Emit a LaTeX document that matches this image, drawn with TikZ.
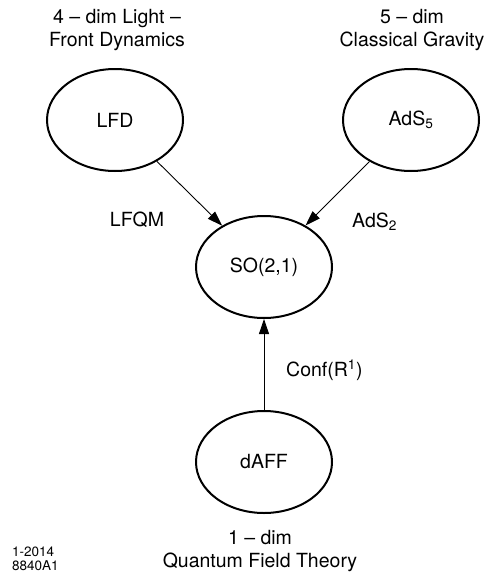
\documentclass[tikz,border=0pt]{standalone}
\usepackage{fontspec}
\setmainfont{TeX Gyre Heros}
\usetikzlibrary{shapes.geometric, arrows.meta}

\begin{document}
\begin{tikzpicture}[x=1pt, y=-1pt, font=\fontsize{19.5}{23}\selectfont,
  main/.style = {draw, ellipse, line width=2pt, minimum width=136pt, minimum height=102pt, inner sep=0pt},
  txt/.style = {align=center, inner sep=0pt},
  edge/.style = {-{Triangle[length=15pt, width=10pt]}, line width=0.9pt}]
\useasboundingbox (0,0) rectangle (489,573);

\node[main] (1) at (115,120) {LFD};
\node[main] (2) at (411,120) {AdS\textsubscript{5}};
\node[main] (3) at (264,267) {SO(2,1)};
\node[main] (4) at (264,462) {dAFF};

\node[txt] (5) at (117,30) {4 – dim Light –\\Front Dynamics};
\node[txt] (6) at (412,30) {5 – dim\\Classical Gravity};
\node[txt] (7) at (260,551) {1 – dim\\Quantum Field Theory};
\node[txt] (8) at (137,220) {LFQM};
\node[txt, anchor=west] (9) at (352,222) {AdS\textsubscript{2}};
\node[txt, anchor=west] (10) at (286,370) {Conf(R\textsuperscript{1})};
\node[txt, anchor=west, align=left, font=\fontsize{13.5}{13.5}\selectfont] (11) at (12,559) {1-2014\\8840A1};

\draw[edge] (1) -- (3);
\draw[edge] (2) -- (3);
\draw[edge] (4) -- (3);
\end{tikzpicture}
\end{document}
